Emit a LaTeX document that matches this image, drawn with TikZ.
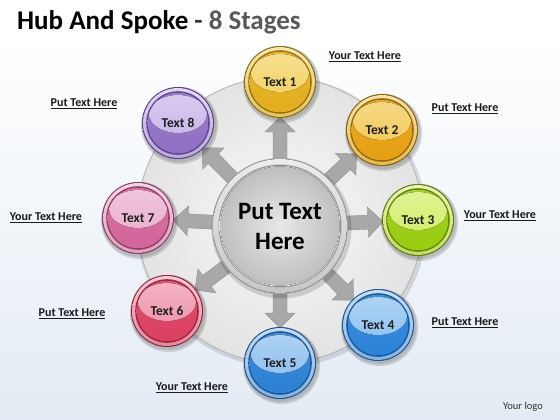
\documentclass[tikz,border=0pt]{standalone}
\usepackage{fontspec}
\setmainfont{Carlito}
\usetikzlibrary{calc}
\definecolor{bgblue}{HTML}{E3EBF4}
\definecolor{titlegrey}{HTML}{595959}
\definecolor{arrowgrey}{HTML}{A8A8A8}
\definecolor{arrowedge}{HTML}{909090}
% stage colours: base, light, dark
\definecolor{sAbase}{HTML}{E3AE1C}\definecolor{sAlight}{HTML}{F3D46A}\definecolor{sAdark}{HTML}{8E6D0E}
\definecolor{sBbase}{HTML}{E5A010}\definecolor{sBlight}{HTML}{F3CC5E}\definecolor{sBdark}{HTML}{8A620C}
\definecolor{sCbase}{HTML}{99CC0E}\definecolor{sClight}{HTML}{D5EE70}\definecolor{sCdark}{HTML}{5E7D0C}
\definecolor{sDbase}{HTML}{2A82D8}\definecolor{sDlight}{HTML}{92C5F2}\definecolor{sDdark}{HTML}{1D5596}
\definecolor{sEbase}{HTML}{2A80D4}\definecolor{sElight}{HTML}{92C2EE}\definecolor{sEdark}{HTML}{1C5290}
\definecolor{sFbase}{HTML}{DB3F60}\definecolor{sFlight}{HTML}{F09AAE}\definecolor{sFdark}{HTML}{97213C}
\definecolor{sGbase}{HTML}{D2649A}\definecolor{sGlight}{HTML}{EBB3CF}\definecolor{sGdark}{HTML}{8E3A63}
\definecolor{sHbase}{HTML}{906FC4}\definecolor{sHlight}{HTML}{CBB9EA}\definecolor{sHdark}{HTML}{5A3F8A}
\tikzset{
  lbl/.style={font=\fontsize{12}{14}\selectfont\bfseries, text=black!90, inner sep=0pt},
  balltext/.style={font=\fontsize{13.5}{16}\selectfont\bfseries, text=black!88, inner sep=0pt},
  hubtext/.style={font=\fontsize{25}{30}\selectfont\bfseries, text=black, align=center, inner sep=0pt},
  spoke/.style={fill=arrowgrey, draw=arrowedge, line width=0.4pt},
}
\newcommand\StageBall[3]{% #1 coordinate name, #2 colour prefix, #3 text
  \begin{scope}[shift={(#1)}]
    \fill[black, opacity=0.14] (1.5,2.5) circle (38.5);
    \fill[black, opacity=0.10] (1,1.5) circle (37.5);
    \fill[#2dark] (0,0) circle (36);
    \fill[top color=#2light!55!white, bottom color=#2light!85!#2dark] (0,0) circle (35);
    \fill[#2dark!80!#2base] (0,0) circle (31.8);
    \fill[top color=#2base!90!white, bottom color=#2base] (0,0) circle (30.5);
    \begin{scope}
      \clip (0,0) circle (30.5);
      \fill[top color=#2light!75!white, bottom color=#2light] (0,-9) ellipse (29 and 19);
    \end{scope}
    \node[balltext] (n#1) at (0,0) {#3};
  \end{scope}}
\begin{document}
\begin{tikzpicture}[x=1pt, y=-1pt]
  \useasboundingbox (0,0) rectangle (560,420);
  % background
  \fill[top color=white, bottom color=bgblue] (0,36) rectangle (560,420);
  \fill[white] (0,0) rectangle (560,36);
  % centres
  \coordinate (hub) at (280,226);
  \coordinate (c1) at (280,82);
  \coordinate (c2) at (382,130);
  \coordinate (c3) at (418,220);
  \coordinate (c4) at (378,325);
  \coordinate (c5) at (280,363);
  \coordinate (c6) at (167,311);
  \coordinate (c7) at (138,218);
  \coordinate (c8) at (178,123);
  % title
  \node[anchor=base west, inner sep=0pt, font=\fontsize{27}{32}\selectfont\bfseries] (title) at (17,30)
    {Hub And Spoke {\color{black!80}-} {\color{titlegrey}8 Stages}};
  % big disk
  \fill[black, opacity=0.12] (281.5,222) circle (145.5);
  \fill[inner color=white!96!gray, outer color=gray!22] (280,220) circle (143);
  \draw[gray!55, line width=0.8pt] (280,220) circle (143);
  % spokes
  \foreach \c in {c1,c2,c3,c4,c5,c6,c7,c8}{
    \coordinate (a0) at ($(hub)!60pt!(\c)$);
    \coordinate (a2) at ($(\c)!35pt!(hub)$);
    \coordinate (a1) at ($(a2)!15pt!(hub)$);
    \filldraw[spoke] ($(a0)!7pt!90:(a2)$) -- ($(a1)!7pt!-90:(a0)$) -- ($(a1)!15pt!-90:(a0)$) -- (a2)
       -- ($(a1)!15pt!90:(a0)$) -- ($(a1)!7pt!90:(a0)$) -- ($(a0)!7pt!-90:(a2)$) -- cycle;
  }
  % hub
  \begin{scope}[shift={(hub)}]
    \fill[black, opacity=0.15] (1.5,2.5) circle (70);
    \fill[gray!70] (0,0) circle (68);
    \fill[top color=gray!15, bottom color=gray!45] (0,0) circle (67);
    \fill[gray!75] (0,0) circle (61.5);
    \fill[top color=gray!30, bottom color=gray!10] (0,0) circle (60.5);
    \fill[inner color=gray!18, outer color=gray!50] (0,0) circle (59.5);
  \end{scope}
  \node[hubtext] (hubtxt) at (hub) {Put Text\\Here};
  % stage balls
  \StageBall{c1}{sA}{Text 1}
  \StageBall{c2}{sB}{Text 2}
  \StageBall{c3}{sC}{Text 3}
  \StageBall{c4}{sD}{Text 4}
  \StageBall{c5}{sE}{Text 5}
  \StageBall{c6}{sF}{Text 6}
  \StageBall{c7}{sG}{Text 7}
  \StageBall{c8}{sH}{Text 8}
  % labels
  \node[lbl] (l1) at (365,57) {\underline{Your Text Here}};
  \node[lbl] (l2) at (465,109) {\underline{Put Text Here}};
  \node[lbl] (l3) at (500,216) {\underline{Your Text Here}};
  \node[lbl] (l4) at (465,323) {\underline{Put Text Here}};
  \node[lbl] (l5) at (192,388) {\underline{Your Text Here}};
  \node[lbl] (l6) at (72,314) {\underline{Put Text Here}};
  \node[lbl] (l7) at (46,218) {\underline{Your Text Here}};
  \node[lbl] (l8) at (84,104) {\underline{Put Text Here}};
  \node[font=\fontsize{10.5}{12}\selectfont, text=black!80, inner sep=0pt] (logo) at (523,407) {Your logo};
\end{tikzpicture}
\end{document}
